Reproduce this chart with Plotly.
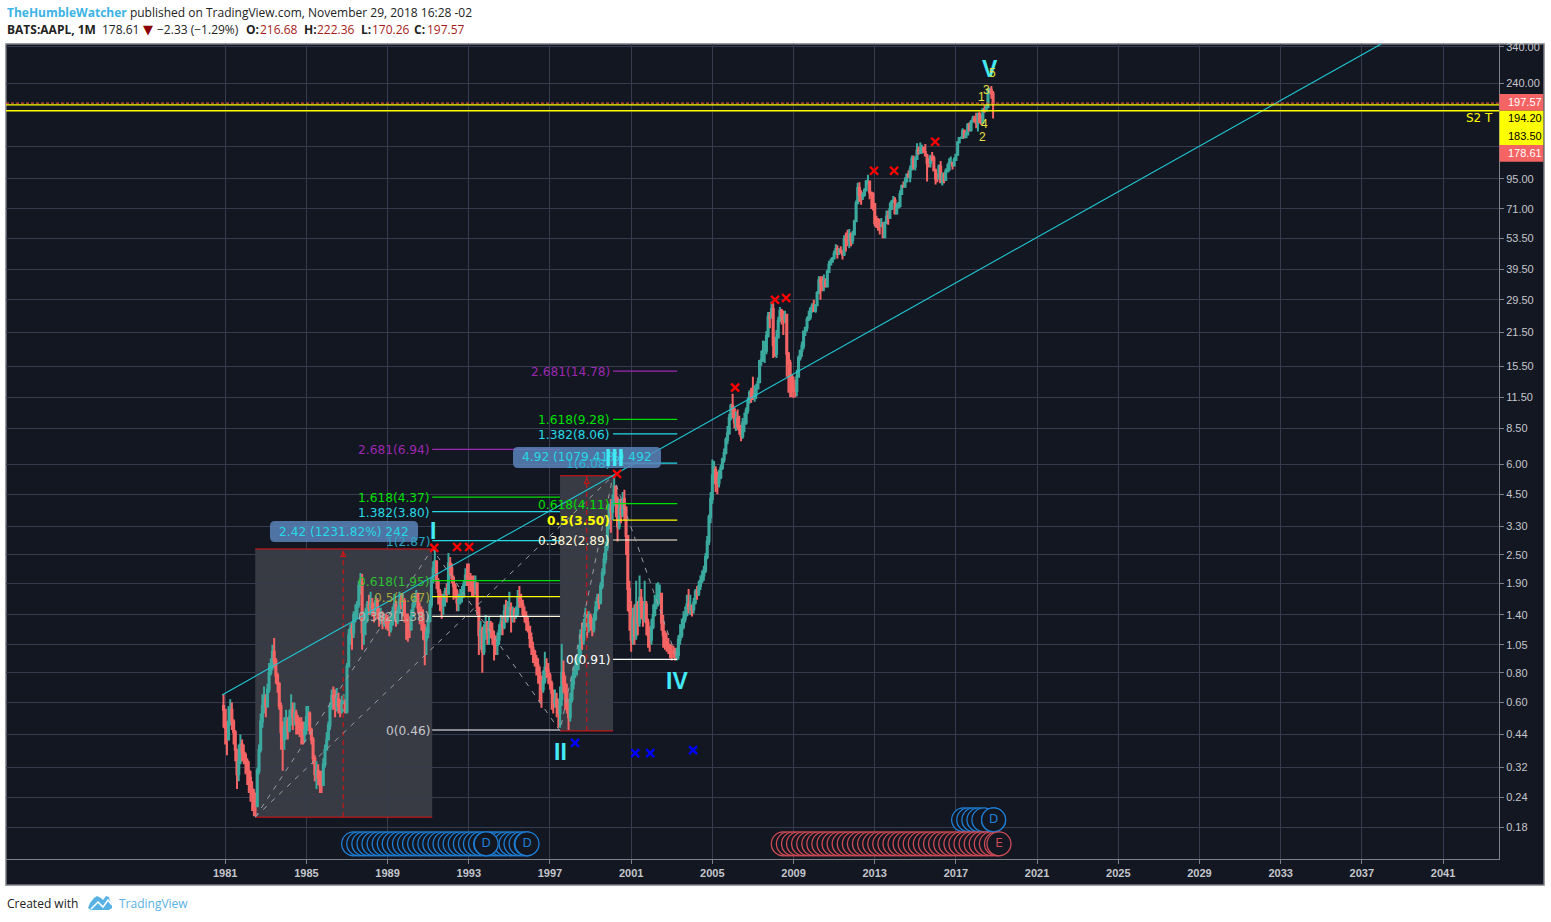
import numpy as np
import pandas as pd
import plotly.graph_objects as go

# monthly candles, Dec 1980 to Nov 2018
first_open = 0.58
close_px = [
    0.56,
    0.47, 0.42, 0.50, 0.56, 0.50, 0.45, 0.38, 0.30, 0.34, 0.40, 0.37, 0.36,
    0.34, 0.31, 0.29, 0.26, 0.25, 0.22, 0.22, 0.31, 0.38, 0.50, 0.58, 0.62,
    0.58, 0.68, 0.80, 0.85, 0.98, 0.90, 0.78, 0.72, 0.58, 0.45, 0.42, 0.47,
    0.50, 0.46, 0.52, 0.56, 0.52, 0.54, 0.50, 0.49, 0.47, 0.46, 0.44, 0.46,
    0.52, 0.54, 0.46, 0.42, 0.35, 0.30, 0.31, 0.29, 0.27, 0.27, 0.33, 0.38,
    0.42, 0.48, 0.58, 0.64, 0.62, 0.58, 0.62, 0.58, 0.56, 0.60, 0.60, 0.55,
    0.85, 1.15, 1.22, 1.18, 1.40, 1.42, 1.55, 1.85, 1.90, 1.18, 1.30, 1.35,
    1.55, 1.50, 1.55, 1.50, 1.45, 1.60, 1.48, 1.35, 1.38, 1.30, 1.35, 1.30,
    1.25, 1.22, 1.28, 1.45, 1.55, 1.32, 1.45, 1.62, 1.55, 1.60, 1.40, 1.32,
    1.32, 1.22, 1.38, 1.55, 1.62, 1.72, 1.50, 1.42, 1.40, 1.22, 1.10, 1.18,
    1.32, 1.55, 1.95, 2.20, 2.35, 1.95, 1.75, 1.62, 1.55, 1.60, 1.75, 1.72,
    2.30, 2.20, 2.00, 1.85, 1.75, 1.58, 1.62, 1.70, 1.72, 1.88, 2.05, 2.00,
    2.00, 1.95, 1.85, 1.85, 1.90, 1.50, 1.15, 1.20, 0.98, 1.20, 1.30, 1.18,
    1.28, 1.20, 1.12, 1.05, 1.05, 1.10, 1.20, 1.30, 1.25, 1.45, 1.35, 1.48,
    1.50, 1.38, 1.45, 1.40, 1.42, 1.65, 1.60, 1.55, 1.42, 1.38, 1.30, 1.25,
    1.12, 1.02, 0.98, 0.92, 0.86, 0.80, 0.76, 0.68, 0.74, 0.84, 0.82, 0.78,
    0.72, 0.66, 0.60, 0.62, 0.58, 0.54, 0.62, 0.80, 0.72, 0.66, 0.60, 0.52,
    0.62, 0.72, 0.80, 0.85, 0.88, 0.95, 1.15, 1.10, 1.28, 1.35, 1.25, 1.38,
    1.30, 1.22, 1.35, 1.50, 1.65, 1.58, 1.85, 2.10, 2.40, 2.70, 3.30, 3.90,
    3.80, 4.20, 4.85, 4.30, 3.30, 3.90, 3.70, 4.30, 3.95, 3.00, 1.80, 1.45,
    1.10, 1.35, 1.15, 1.55, 1.30, 1.65, 1.50, 1.35, 1.55, 1.30, 1.15, 1.10,
    1.25, 1.40, 1.55, 1.65, 1.70, 1.72, 1.30, 1.15, 1.08, 1.05, 1.00, 0.98,
    0.98, 0.97, 0.94, 0.95, 1.10, 1.15, 1.25, 1.35, 1.40, 1.55, 1.50, 1.52,
    1.48, 1.58, 1.75, 1.72, 1.85, 1.95, 2.05, 2.15, 2.45, 2.85, 3.60, 4.30,
    5.40, 5.70, 5.00, 5.00, 5.30, 5.80, 6.30, 6.70, 7.60, 8.10, 9.40, 10.60,
    10.2, 9.0, 9.3, 8.7, 8.4, 7.9, 9.0, 9.0, 10.1, 11.0, 12.0, 11.5,
    11.5, 11.8, 12.5, 13.3, 16.3, 16.5, 18.0, 18.0, 20.8, 25.0, 24.8, 27.0,
    19.0, 17.5, 20.5, 24.0, 26.5, 25.0, 24.5, 25.5, 17.5, 16.0, 14.0, 12.5,
    12.2, 12.2, 14.0, 16.8, 18.0, 18.9, 21.7, 22.5, 24.3, 25.0, 27.0, 27.8,
    26.5, 28.0, 31.5, 35.5, 34.8, 34.3, 35.2, 33.5, 38.6, 41.5, 42.6, 44.0,
    46.0, 48.2, 47.5, 47.6, 47.1, 45.7, 53.0, 52.7, 52.2, 55.2, 52.5, 55.5,
    63.0, 75.0, 87.0, 81.0, 80.0, 81.5, 85.0, 92.5, 92.5, 83.0, 82.0, 74.5,
    62.0, 60.0, 60.0, 60.0, 61.0, 54.0, 62.0, 66.0, 65.0, 71.0, 76.0, 77.0,
    68.0, 72.0, 73.0, 82.0, 88.5, 88.0, 92.5, 99.0, 97.0, 104.0, 115.0, 107.0,
    115.0, 125.0, 122.0, 123.0, 128.0, 123.0, 119.0, 111.0, 111.0, 117.0, 116.0, 103.0,
    95.0, 95.0, 107.0, 92.0, 98.0, 94.0, 102.0, 104.0, 111.0, 111.0, 108.0, 114.0,
    120.0, 135.0, 141.0, 141.0, 151.0, 142.0, 146.0, 160.0, 152.0, 165.0, 170.0, 167.0,
    163.0, 178.0, 165.0, 163.0, 186.0, 184.0, 190.0, 225.0, 225.0, 216.68, 197.57,
]
high_px = [
    0.65,
    0.55, 0.50, 0.58, 0.62, 0.60, 0.51, 0.46, 0.38, 0.40, 0.44, 0.42, 0.40,
    0.37, 0.35, 0.34, 0.31, 0.28, 0.26, 0.25, 0.32, 0.40, 0.54, 0.65, 0.70,
    0.65, 0.72, 0.88, 0.92, 1.05, 1.12, 0.92, 0.80, 0.73, 0.60, 0.50, 0.52,
    0.56, 0.52, 0.56, 0.65, 0.60, 0.60, 0.56, 0.53, 0.52, 0.52, 0.50, 0.50,
    0.58, 0.58, 0.55, 0.47, 0.43, 0.36, 0.34, 0.33, 0.31, 0.31, 0.35, 0.40,
    0.45, 0.50, 0.60, 0.68, 0.70, 0.68, 0.69, 0.66, 0.62, 0.64, 0.65, 0.62,
    0.88, 1.22, 1.28, 1.30, 1.45, 1.55, 1.60, 1.95, 2.10, 2.08, 1.45, 1.50,
    1.60, 1.70, 1.75, 1.65, 1.58, 1.68, 1.65, 1.50, 1.50, 1.45, 1.42, 1.42,
    1.40, 1.35, 1.38, 1.52, 1.72, 1.60, 1.52, 1.75, 1.72, 1.72, 1.65, 1.42,
    1.42, 1.38, 1.48, 1.62, 1.70, 1.78, 1.72, 1.58, 1.52, 1.48, 1.28, 1.25,
    1.40, 1.62, 2.00, 2.35, 2.65, 2.35, 2.00, 1.80, 1.72, 1.72, 1.82, 1.90,
    2.55, 2.45, 2.30, 2.05, 1.90, 1.80, 1.72, 1.80, 1.85, 1.95, 2.20, 2.30,
    2.30, 2.10, 2.05, 2.05, 2.05, 1.90, 1.50, 1.32, 1.25, 1.28, 1.40, 1.32,
    1.38, 1.32, 1.30, 1.20, 1.15, 1.18, 1.28, 1.40, 1.38, 1.55, 1.62, 1.60,
    1.75, 1.58, 1.52, 1.50, 1.52, 1.78, 1.85, 1.72, 1.62, 1.52, 1.45, 1.38,
    1.25, 1.18, 1.08, 1.00, 0.95, 0.92, 0.85, 0.78, 0.82, 0.98, 0.92, 0.88,
    0.80, 0.74, 0.68, 0.68, 0.66, 0.62, 0.70, 1.06, 0.90, 0.78, 0.72, 0.62,
    0.66, 0.78, 0.84, 0.90, 0.95, 1.05, 1.22, 1.30, 1.35, 1.50, 1.45, 1.45,
    1.42, 1.36, 1.42, 1.60, 1.72, 1.72, 1.92, 2.20, 2.55, 2.85, 3.50, 4.10,
    4.30, 4.50, 5.35, 4.80, 4.40, 4.30, 4.30, 4.60, 4.70, 4.00, 3.00, 1.95,
    1.60, 1.50, 1.55, 1.95, 1.60, 2.05, 1.80, 1.60, 1.95, 1.60, 1.35, 1.25,
    1.35, 1.55, 1.70, 1.90, 1.92, 1.88, 1.70, 1.40, 1.20, 1.18, 1.12, 1.06,
    1.05, 1.04, 1.02, 1.02, 1.15, 1.28, 1.35, 1.45, 1.52, 1.70, 1.80, 1.70,
    1.55, 1.65, 1.80, 1.85, 1.95, 2.05, 2.15, 2.25, 2.55, 3.00, 3.70, 4.60,
    6.30, 6.20, 5.90, 5.60, 5.70, 6.00, 6.40, 7.00, 7.80, 8.70, 9.80, 10.80,
    11.9, 10.4, 10.0, 10.2, 9.6, 8.8, 9.4, 9.9, 10.4, 11.5, 12.3, 12.6,
    14.0, 12.9, 13.1, 13.9, 16.4, 18.0, 19.9, 19.8, 21.8, 26.2, 26.2, 29.0,
    28.5, 20.5, 22.0, 25.0, 27.5, 27.0, 26.5, 26.5, 25.5, 17.8, 16.5, 14.3,
    14.0, 13.6, 15.0, 17.2, 18.2, 19.7, 21.9, 22.7, 25.0, 26.5, 27.5, 28.5,
    29.5, 28.3, 32.0, 37.0, 37.0, 37.0, 37.7, 36.3, 39.5, 43.0, 44.0, 44.6,
    47.5, 50.5, 50.0, 48.5, 49.5, 47.5, 55.0, 56.5, 58.0, 58.5, 56.5, 57.5,
    64.0, 77.0, 91.5, 92.0, 85.0, 83.5, 87.0, 94.0, 98.8, 92.5, 84.0, 83.5,
    74.0, 66.5, 65.0, 64.5, 65.0, 62.5, 63.0, 70.0, 70.0, 75.5, 77.5, 80.5,
    79.5, 75.0, 76.0, 85.0, 90.0, 92.5, 96.5, 100.0, 103.0, 108.0, 119.0, 119.0,
    118.0, 134.0, 130.0, 135.0, 132.0, 130.0, 133.0, 121.0, 116.0, 120.0, 123.0, 119.0,
    105.0, 100.0, 109.0, 113.0, 101.0, 101.0, 105.0, 110.0, 116.0, 118.0, 112.0, 117.0,
    121.0, 137.0, 142.0, 143.0, 155.0, 153.0, 150.0, 163.0, 164.0, 168.0, 175.0, 175.0,
    180.0, 180.0, 182.0, 177.0, 188.0, 193.0, 194.0, 228.0, 229.0, 233.0, 222.36,
]
low_px = [
    0.47,
    0.40, 0.36, 0.42, 0.48, 0.46, 0.40, 0.34, 0.26, 0.28, 0.33, 0.34, 0.33,
    0.30, 0.27, 0.25, 0.23, 0.21, 0.20, 0.20, 0.22, 0.30, 0.37, 0.47, 0.54,
    0.52, 0.57, 0.66, 0.78, 0.82, 0.84, 0.72, 0.66, 0.56, 0.38, 0.31, 0.38,
    0.42, 0.42, 0.45, 0.48, 0.46, 0.48, 0.44, 0.44, 0.43, 0.40, 0.40, 0.41,
    0.44, 0.48, 0.44, 0.40, 0.33, 0.28, 0.26, 0.27, 0.25, 0.25, 0.27, 0.32,
    0.38, 0.42, 0.46, 0.56, 0.56, 0.52, 0.55, 0.54, 0.52, 0.54, 0.55, 0.54,
    0.54, 0.85, 1.05, 1.00, 1.12, 1.30, 1.35, 1.50, 1.70, 1.00, 1.05, 1.15,
    1.30, 1.40, 1.40, 1.38, 1.30, 1.40, 1.35, 1.25, 1.28, 1.22, 1.25, 1.22,
    1.20, 1.14, 1.18, 1.26, 1.42, 1.25, 1.28, 1.42, 1.48, 1.38, 1.30, 1.10,
    1.08, 1.12, 1.20, 1.38, 1.50, 1.58, 1.42, 1.28, 1.20, 1.10, 0.86, 0.95,
    1.12, 1.30, 1.50, 1.90, 2.10, 1.80, 1.55, 1.45, 1.35, 1.40, 1.52, 1.58,
    1.70, 2.05, 1.90, 1.62, 1.65, 1.45, 1.45, 1.55, 1.58, 1.65, 1.85, 1.85,
    1.75, 1.75, 1.68, 1.68, 1.70, 1.40, 0.95, 1.00, 0.80, 0.95, 1.10, 1.05,
    1.05, 1.12, 1.05, 0.90, 0.95, 0.95, 1.05, 1.15, 1.15, 1.22, 1.30, 1.30,
    1.38, 1.18, 1.30, 1.30, 1.35, 1.38, 1.50, 1.50, 1.38, 1.30, 1.20, 1.18,
    1.02, 0.95, 0.88, 0.85, 0.78, 0.72, 0.60, 0.57, 0.66, 0.72, 0.76, 0.72,
    0.68, 0.56, 0.54, 0.57, 0.52, 0.47, 0.47, 0.58, 0.66, 0.56, 0.54, 0.46,
    0.50, 0.60, 0.68, 0.76, 0.78, 0.82, 0.92, 1.00, 1.05, 1.20, 1.12, 1.18,
    1.20, 1.14, 1.18, 1.32, 1.45, 1.48, 1.55, 1.80, 2.05, 2.30, 2.60, 3.20,
    3.10, 3.50, 4.00, 3.60, 2.85, 3.20, 3.40, 3.60, 3.50, 2.50, 1.45, 1.20,
    0.98, 1.05, 1.05, 1.10, 1.15, 1.25, 1.35, 1.25, 1.30, 1.15, 1.02, 0.98,
    1.05, 1.22, 1.38, 1.48, 1.52, 1.55, 1.20, 1.02, 1.00, 0.98, 0.96, 0.92,
    0.90, 0.92, 0.90, 0.90, 0.91, 1.05, 1.12, 1.22, 1.30, 1.38, 1.42, 1.40,
    1.38, 1.42, 1.55, 1.62, 1.68, 1.78, 1.90, 1.95, 2.10, 2.40, 2.75, 3.40,
    4.10, 5.00, 4.60, 4.50, 4.80, 5.20, 5.70, 6.10, 6.60, 7.30, 8.00, 9.20,
    9.4, 8.5, 8.3, 8.4, 8.0, 7.5, 7.7, 8.2, 8.8, 9.8, 10.8, 10.9,
    11.2, 11.0, 11.3, 12.6, 13.4, 15.6, 16.2, 16.0, 17.4, 20.5, 22.4, 24.6,
    16.8, 17.0, 16.8, 20.3, 24.0, 23.2, 21.0, 23.5, 14.0, 12.0, 11.5, 11.5,
    11.4, 11.5, 11.6, 13.9, 16.4, 17.0, 18.3, 20.8, 21.7, 24.0, 24.3, 26.0,
    26.2, 26.0, 28.0, 31.4, 29.5, 32.0, 32.0, 33.3, 33.4, 38.2, 41.2, 42.6,
    44.5, 46.5, 44.0, 45.5, 46.0, 43.5, 45.0, 47.0, 49.5, 48.5, 49.5, 50.5,
    55.0, 63.0, 75.0, 76.0, 74.0, 77.5, 80.0, 84.0, 90.0, 78.0, 71.0, 70.0,
    60.0, 59.0, 57.5, 55.5, 59.5, 54.0, 56.5, 62.0, 61.0, 64.5, 71.5, 75.5,
    69.0, 69.0, 72.0, 72.0, 83.0, 88.0, 90.0, 92.0, 96.0, 92.0, 105.0, 104.0,
    103.0, 115.0, 120.0, 121.0, 121.0, 123.0, 118.0, 92.5, 106.0, 106.0, 113.0, 103.0,
    90.0, 92.0, 96.0, 91.0, 89.0, 91.0, 93.0, 102.0, 102.0, 111.0, 104.0, 109.0,
    113.0, 127.0, 137.0, 140.0, 142.0, 141.0, 142.0, 147.0, 150.0, 150.0, 165.0, 164.0,
    155.0, 150.0, 163.0, 160.0, 164.0, 180.0, 184.0, 199.0, 215.0, 206.0, 170.26,
]
month_dates = pd.date_range("1980-12-01", "2018-11-01", freq="MS")

year_ticks = [1981, 1985, 1989, 1993, 1997, 2001, 2005, 2009, 2013, 2017, 2021, 2025, 2029, 2033, 2037, 2041]
price_ticks = [340, 240, 130, 95, 71, 53.5, 39.5, 29.5, 21.5, 15.5, 11.5, 8.5, 6, 4.5, 3.3, 2.5, 1.9, 1.4, 1.05, 0.8, 0.6, 0.44, 0.32, 0.24, 0.18]
hidden_ticks = [130]

# fib tools
left_fib_ratio = ["0", "0.382", "0.5", "0.618", "1", "1.382", "1.618", "2.681"]
left_fib_price = [0.46, 1.38, 1.67, 1.95, 2.87, 3.80, 4.37, 6.94]
left_fib_line = ["#ffffff", "#fff8dc", "#ffff00", "#00e000", "#26d9e6", "#26d9e6", "#00e000", "#9c27b0"]
left_fib_text = ["#c8c8cc", "#b8b8b0", "#a8a83a", "#2fc02f", "#2aa3c4", "#26d9e6", "#00e000", "#9c27b0"]
right_fib_ratio = ["0", "0.382", "0.5", "0.618", "1", "1.382", "1.618", "2.681"]
right_fib_price = [0.91, 2.89, 3.50, 4.11, 6.08, 8.06, 9.28, 14.78]
right_fib_line = ["#ffffff", "#fff8dc", "#ffff00", "#00e000", "#26d9e6", "#26d9e6", "#00e000", "#9c27b0"]
right_fib_text = ["#ffffff", "#fff8dc", "#ffff00", "#00e000", "#2ab4d2", "#26d9e6", "#00e000", "#9c27b0"]

# elliott path and long trend line
wave_dates = ["1982-06-25", "1991-03-15", "1997-07-01", "2000-02-10", "2003-04-10"]
wave_prices = [0.198, 2.65, 0.456, 5.38, 0.91]
trend_dates = ["1980-11-05", "2037-12-15"]
trend_prices = [0.646, 350]

red_x_dates = ["1991-04-20", "1992-06-05", "1993-01-08", "2000-04-22", "2006-02-15", "2008-02-02", "2008-08-20", "2012-12-20", "2013-12-16", "2015-12-25"]
red_x_prices = [2.68, 2.70, 2.70, 5.47, 12.6, 29.5, 30.0, 102.7, 102.7, 136]
blue_x_dates = ["1998-03-28", "2001-03-15", "2001-12-10", "2004-01-20"]
blue_x_prices = [0.406, 0.368, 0.368, 0.379]

div_dates_a = pd.date_range("1987-05-01", "1995-11-01", freq="3MS")
div_dates_b = ["2017-05-20", "2017-08-20", "2017-11-20", "2018-02-20", "2018-05-20", "2018-11-10"]
earn_dates = pd.date_range("2008-07-01", "2019-02-01", freq="3MS")

bg = "#131722"
grid = "#363c4e"
teal = "#3ba99e"
red = "#f56464"
cyan = "#26d9e6"
wave_cyan = "#43eaf5"
label_font = "DejaVu Sans"


def px_x(v):
    return (v - 6) / (1499 - 6)


def px_y(v):
    return (859 - v) / (859 - 44)


def round_box(x0, y0, x1, y1, r=5):
    a, b, c, d = px_x(x0), px_x(x1), px_y(y0), px_y(y1)
    rx, ry = r / 1493, r / 815
    return (f"M {a + rx} {c} L {b - rx} {c} Q {b} {c} {b} {c - ry} L {b} {d + ry} Q {b} {d} {b - rx} {d} "
            f"L {a + rx} {d} Q {a} {d} {a} {d + ry} L {a} {c - ry} Q {a} {c} {a + rx} {c} Z")


def px_path(points):
    parts = [f"{px_x(x)} {px_y(y)}" for x, y in points]
    return "M " + " L ".join(parts)


fig = go.Figure()

# frame behind everything
fig.add_shape(type="rect", xref="paper", yref="paper", x0=px_x(6), x1=px_x(1544), y0=px_y(44), y1=px_y(885),
              fillcolor=bg, line=dict(color="#7a7c82", width=1.5), layer="below")

# measure boxes
for d0, d1, p0, p1 in [("1982-06-25", "1991-03-15", 0.198, 2.65), ("1997-07-01", "2000-02-10", 0.456, 5.38)]:
    fig.add_shape(type="rect", x0=d0, x1=d1, y0=p0, y1=p1, fillcolor="#383b44", line=dict(width=0), layer="below")

open_px = [first_open] + close_px[:-1]
high_all = np.maximum(np.maximum(high_px, close_px), open_px)
low_all = np.minimum(np.minimum(low_px, close_px), open_px)

# fib lines
for d0, d1, prices, colors in [("1991-03-15", "1997-07-01", left_fib_price, left_fib_line),
                               ("2000-02-10", "2003-04-10", right_fib_price, right_fib_line)]:
    for p, c in zip(prices, colors):
        fig.add_trace(go.Scatter(x=[d0, d1], y=[p, p], mode="lines", line=dict(color=c, width=1.2), hoverinfo="skip"))

fig.add_trace(go.Candlestick(
    x=month_dates, open=open_px, high=high_all, low=low_all, close=close_px,
    increasing=dict(line=dict(color=teal, width=2), fillcolor=teal),
    decreasing=dict(line=dict(color=red, width=2), fillcolor=red),
    whiskerwidth=0,
))

# box edges
for d0, d1, p0, p1, mid in [("1982-06-25", "1991-03-15", 0.198, 2.65, "1986-10-25"),
                            ("1997-07-01", "2000-02-10", 0.456, 5.38, "1998-10-25")]:
    for p in (p0, p1):
        fig.add_trace(go.Scatter(x=[d0, d1], y=[p, p], mode="lines", line=dict(color="#e01010", width=1)))
    fig.add_trace(go.Scatter(x=[mid, mid], y=[p0, p1], mode="lines", line=dict(color="#e01010", width=1, dash="5px,4px")))
    fig.add_trace(go.Scatter(x=[mid], y=[p1 * 0.975], mode="markers", cliponaxis=False,
                             marker=dict(symbol="arrow-up-open", size=5, color="#e01010", line=dict(color="#e01010", width=1))))

# dashed wave path
fig.add_trace(go.Scatter(x=wave_dates, y=wave_prices, mode="lines", line=dict(color="#9a9ca4", width=1, dash="5px,6px")))
fig.add_trace(go.Scatter(x=[wave_dates[0], wave_dates[3]], y=[wave_prices[0], wave_prices[3]], mode="lines",
                         line=dict(color="#9a9ca4", width=1, dash="5px,6px")))

fig.add_trace(go.Scatter(x=trend_dates, y=trend_prices, mode="lines", line=dict(color="#1fc9d4", width=1.1)))

# horizontal levels
fig.add_hline(y=197.57, line=dict(color="#ff5a3c", width=1, dash="3px,2px"))
fig.add_hline(y=194.2, line=dict(color="#ffff00", width=1.4))
fig.add_hline(y=183.5, line=dict(color="#ffff00", width=1.4))

fig.add_trace(go.Scatter(x=red_x_dates, y=red_x_prices, mode="markers",
                         marker=dict(symbol="x-thin", size=8, line=dict(color="#ff0000", width=2.4))))
fig.add_trace(go.Scatter(x=blue_x_dates, y=blue_x_prices, mode="markers",
                         marker=dict(symbol="x-thin", size=8, line=dict(color="#0000ff", width=2.4))))

# dividend and earnings bubbles
circle_rows = [(div_dates_a, 0.153, "#1e7fd6"), (div_dates_b, 0.193, "#1e7fd6"), (earn_dates, 0.153, "#cf4b55")]
for dates, level, c in circle_rows:
    fig.add_trace(go.Scatter(x=dates, y=[level] * len(dates), mode="markers",
                             marker=dict(symbol="circle", size=24, color=bg, line=dict(color=c, width=1.3))))
for d, level, c, letter in [("1993-11-10", 0.153, "#1e7fd6", "D"), ("1995-11-15", 0.153, "#1e7fd6", "D"),
                            ("2018-11-10", 0.193, "#1e7fd6", "D"), ("2019-02-15", 0.153, "#cf4b55", "E")]:
    fig.add_trace(go.Scatter(x=[d], y=[level], mode="markers+text", text=[letter], textposition="middle center",
                             textfont=dict(family=label_font, size=12, color=c),
                             marker=dict(symbol="circle", size=24, color=bg, line=dict(color=c, width=1.3))))

# label pills on top of the traces
for x0, y0, x1, y1 in [(270, 521, 418, 542), (513, 447, 661, 468)]:
    fig.add_shape(type="path", xref="paper", yref="paper", path=round_box(x0, y0, x1, y1),
                  fillcolor="#5b84ba", opacity=0.85, line=dict(width=0), layer="above")

# price labels on the right
for y0, y1, c in [(94, 110.7, red), (110.7, 145, "#ffff00"), (145, 161.7, red)]:
    fig.add_shape(type="rect", xref="paper", yref="paper", x0=px_x(1499.5), x1=px_x(1543.3), y0=px_y(y0), y1=px_y(y1),
                  fillcolor=c, line=dict(width=0), layer="above")

# tradingview logo in the footer
fig.add_shape(type="path", xref="paper", yref="paper", line=dict(width=0), fillcolor="#58b2e4", layer="above",
              path=px_path([(88, 908), (90, 903), (94, 898), (97, 896), (101, 898), (103, 900), (106, 896), (109, 897),
                            (110, 901), (112, 904), (112, 908), (109, 910), (91, 910)]) + " Z")
fig.add_shape(type="path", xref="paper", yref="paper", line=dict(color="#ffffff", width=1.5), layer="above",
              path=px_path([(91, 909), (98, 902), (103, 907), (108, 900), (112, 905)]))


def note(text, x, y, size=12, color="#000000", family="Open Sans", anchor="left"):
    fig.add_annotation(text=text, xref="paper", yref="paper", x=px_x(x), y=px_y(y), showarrow=False,
                       xanchor=anchor, yanchor="middle", align=anchor, borderpad=0,
                       font=dict(size=size, color=color, family=family))


# fib labels
for d0, ratios, prices, colors in [("1991-03-01", left_fib_ratio, left_fib_price, left_fib_text),
                                   ("2000-01-05", right_fib_ratio, right_fib_price, right_fib_text)]:
    for r, p, c in zip(ratios, prices, colors):
        txt = f"{r}({p:.2f})"
        if r == "0.5" and p > 3:
            txt = f"<b>{txt}</b>"
        fig.add_annotation(text=txt, x=d0, y=np.log10(p), xref="x", yref="y", showarrow=False, xanchor="right",
                           yanchor="middle", yshift=-1, borderpad=0, font=dict(family=label_font, size=12.2, color=c))

for label, y, c in [("197.57", 102, "#ffffff"), ("194.20", 118, "#000000"), ("183.50", 136, "#000000"), ("178.61", 153, "#ffffff")]:
    note(label, 1507, y, 11, c, "Liberation Sans")
note("S2 T", 1494, 118, 12, "#ffff00", label_font, "right")

note("2.42 (1231.82%) 242", 344, 531.5, 12.2, cyan, label_font, "center")
note("4.92 (1079.41%) 492", 587, 457.5, 12.2, cyan, label_font, "center")

for label, x, y in [("I", 433, 531), ("II", 560, 752), ("III", 614, 458), ("IV", 677, 681), ("V", 990, 69)]:
    note(f"<b>{label}</b>", x, y, 23, wave_cyan, "Liberation Sans", "center")
for label, x, y in [("1", 981, 97), ("3", 986, 90), ("4", 984, 124), ("2", 982, 137), ("5", 992, 73)]:
    note(label, x, y, 12, "#e8e040", "Liberation Sans", "center")

# header and footer
dark = "#222222"
dark_red = "#a51c1c"
note("<b><span style='color:#3bb3e4'>TheHumbleWatcher</span></b> published on TradingView.com, November 29, 2018 16:28 -02", 6, 12, 12, dark)
for text, x, c in [("<b>BATS:AAPL, 1M</b>", 6, dark), ("178.61", 101, dark), ("−2.33 (−1.29%)", 156, dark),
                   ("<b>O:</b>", 245, dark), ("216.68", 259, dark_red), ("<b>H:</b>", 303, dark), ("222.36", 316, dark_red),
                   ("<b>L:</b>", 360, dark), ("170.26", 371, dark_red), ("<b>C:</b>", 413, dark), ("197.57", 426, dark_red)]:
    note(text, x, 29.5, 12, c)
note("▼", 142, 29.5, 13, "#8b0000", "DejaVu Sans")
note("Created with", 6, 904, 12, dark)
note("TradingView", 118, 904, 12, "#58b2e4")

fig.update_layout(
    width=1551, height=922, autosize=False,
    margin=dict(l=6, r=52, t=44, b=63, pad=0),
    paper_bgcolor="#ffffff", plot_bgcolor=bg,
    showlegend=False, boxgap=0,
    xaxis=dict(
        type="date", range=["1970-03-15", "2043-10-05"], rangeslider=dict(visible=False),
        tickmode="array", tickvals=[f"{y}-01-01" for y in year_ticks], ticktext=[f"<b>{y}</b>" for y in year_ticks],
        tickfont=dict(family="Liberation Sans", size=11, color="#c4c6cc"),
        gridcolor=grid, gridwidth=1, showline=True, linecolor="#7d8087", ticks="outside", ticklen=4, tickcolor="#7d8087",
        zeroline=False,
    ),
    yaxis=dict(
        type="log", side="right", range=[-0.879, 2.544],
        tickmode="array", tickvals=price_ticks,
        ticktext=["" if t in hidden_ticks else f"{t:.2f}" for t in price_ticks],
        tickfont=dict(family="Liberation Sans", size=11, color="#c4c6cc"),
        gridcolor=grid, gridwidth=1, showline=True, linecolor="#7d8087", ticks="outside", ticklen=4, tickcolor="#7d8087",
        zeroline=False,
    ),
)

fig.write_html("out.html", config=dict(displayModeBar=False), post_script="document.body.style.margin='0';")
